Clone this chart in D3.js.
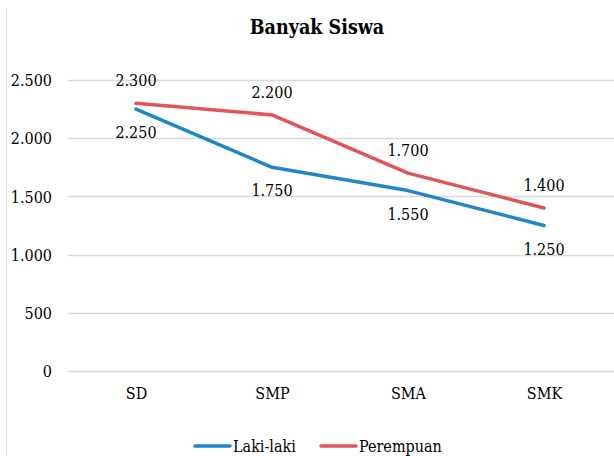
<!DOCTYPE html>
<html>
<head>
<meta charset="utf-8">
<script src="https://cdn.jsdelivr.net/npm/d3@7"></script>
<style>
  html, body { margin: 0; padding: 0; background: #fff; }
  svg { display: block; }
</style>
</head>
<body>
<div id="chart"></div>
<script>
// Jumlah siswa per jenjang sekolah
const categories = ["SD", "SMP", "SMA", "SMK"];
const lakiLaki = [2250, 1750, 1550, 1250];
const perempuan = [2300, 2200, 1700, 1400];
const yTicks = [0, 500, 1000, 1500, 2000, 2500];
const seriesNames = ["Laki-laki", "Perempuan"];
const seriesColors = ["#1f87c6", "#df555a"];

const width = 614, height = 456;
const margin = { left: 68, right: 2, top: 80, bottom: 85 };
const serif = "'DejaVu Serif Condensed', 'DejaVu Serif', serif";
const fs = 16;

const svg = d3.select("#chart").append("svg")
  .attr("width", width).attr("height", height)
  .style("font-family", serif);

// chart area border (left edge)
svg.append("line")
  .attr("x1", 6.5).attr("x2", 6.5).attr("y1", 10).attr("y2", height)
  .attr("stroke", "#d9d9d9").attr("stroke-width", 1);

const x = d3.scalePoint()
  .domain(categories)
  .range([margin.left, width - margin.right])
  .padding(0.5);

const y = d3.scaleLinear()
  .domain([0, 2500])
  .range([height - margin.bottom, margin.top]);

const fmt = v => d3.format(",")(v).replace(/,/g, ".");

// gridlines
svg.append("g").selectAll("line").data(yTicks).join("line")
  .attr("x1", margin.left).attr("x2", width)
  .attr("y1", d => Math.round(y(d)) + 0.5).attr("y2", d => Math.round(y(d)) + 0.5)
  .attr("stroke", "#d9d9d9").attr("stroke-width", 1.5);

// y labels
const yAxis = d3.axisLeft(y).tickValues(yTicks).tickSize(0).tickFormat(fmt);
const gy = svg.append("g").attr("transform", `translate(${margin.left},0)`).call(yAxis);
gy.attr("font-family", null).attr("font-size", fs);
gy.select(".domain").remove();
gy.selectAll("text").attr("x", -16).attr("dy", "0.36em").attr("fill", "#000");

// x labels
const xAxis = d3.axisBottom(x).tickSize(0);
const gx = svg.append("g").attr("transform", `translate(0,${y(0)})`).call(xAxis);
gx.attr("font-family", null).attr("font-size", fs);
gx.select(".domain").remove();
gx.selectAll("text").attr("y", 17).attr("fill", "#000");

// lines
const line = d3.line().x((d, i) => x(categories[i])).y(d => y(d));
const series = [lakiLaki, perempuan];
series.forEach((vals, s) => {
  svg.append("path")
    .datum(vals)
    .attr("d", line)
    .attr("fill", "none")
    .attr("stroke", seriesColors[s])
    .attr("stroke-width", 3.5)
    .attr("stroke-linejoin", "round")
    .attr("stroke-linecap", "round");
});

// data labels: perempuan above, laki-laki below
svg.append("g").selectAll("text").data(perempuan).join("text")
  .attr("x", (d, i) => x(categories[i]))
  .attr("y", d => y(d) - 17)
  .attr("text-anchor", "middle")
  .attr("font-size", fs)
  .text(fmt);
svg.append("g").selectAll("text").data(lakiLaki).join("text")
  .attr("x", (d, i) => x(categories[i]))
  .attr("y", d => y(d) + 29)
  .attr("text-anchor", "middle")
  .attr("font-size", fs)
  .text(fmt);

// title
svg.append("text")
  .attr("x", 317).attr("y", 34)
  .attr("text-anchor", "middle")
  .attr("font-size", 19.5).attr("font-weight", "bold")
  .text("Banyak Siswa");

// legend
const legendX = [195, 321];
const legend = svg.append("g").selectAll("g").data(seriesNames).join("g")
  .attr("transform", (d, i) => `translate(${legendX[i]},446)`);
legend.append("line")
  .attr("x1", 0).attr("x2", 35).attr("y1", 0).attr("y2", 0)
  .attr("stroke", (d, i) => seriesColors[i]).attr("stroke-width", 3.5)
  .attr("stroke-linecap", "round");
legend.append("text")
  .attr("x", 38).attr("y", 0).attr("dy", "0.36em")
  .attr("font-size", fs)
  .text(d => d);
</script>
</body>
</html>
